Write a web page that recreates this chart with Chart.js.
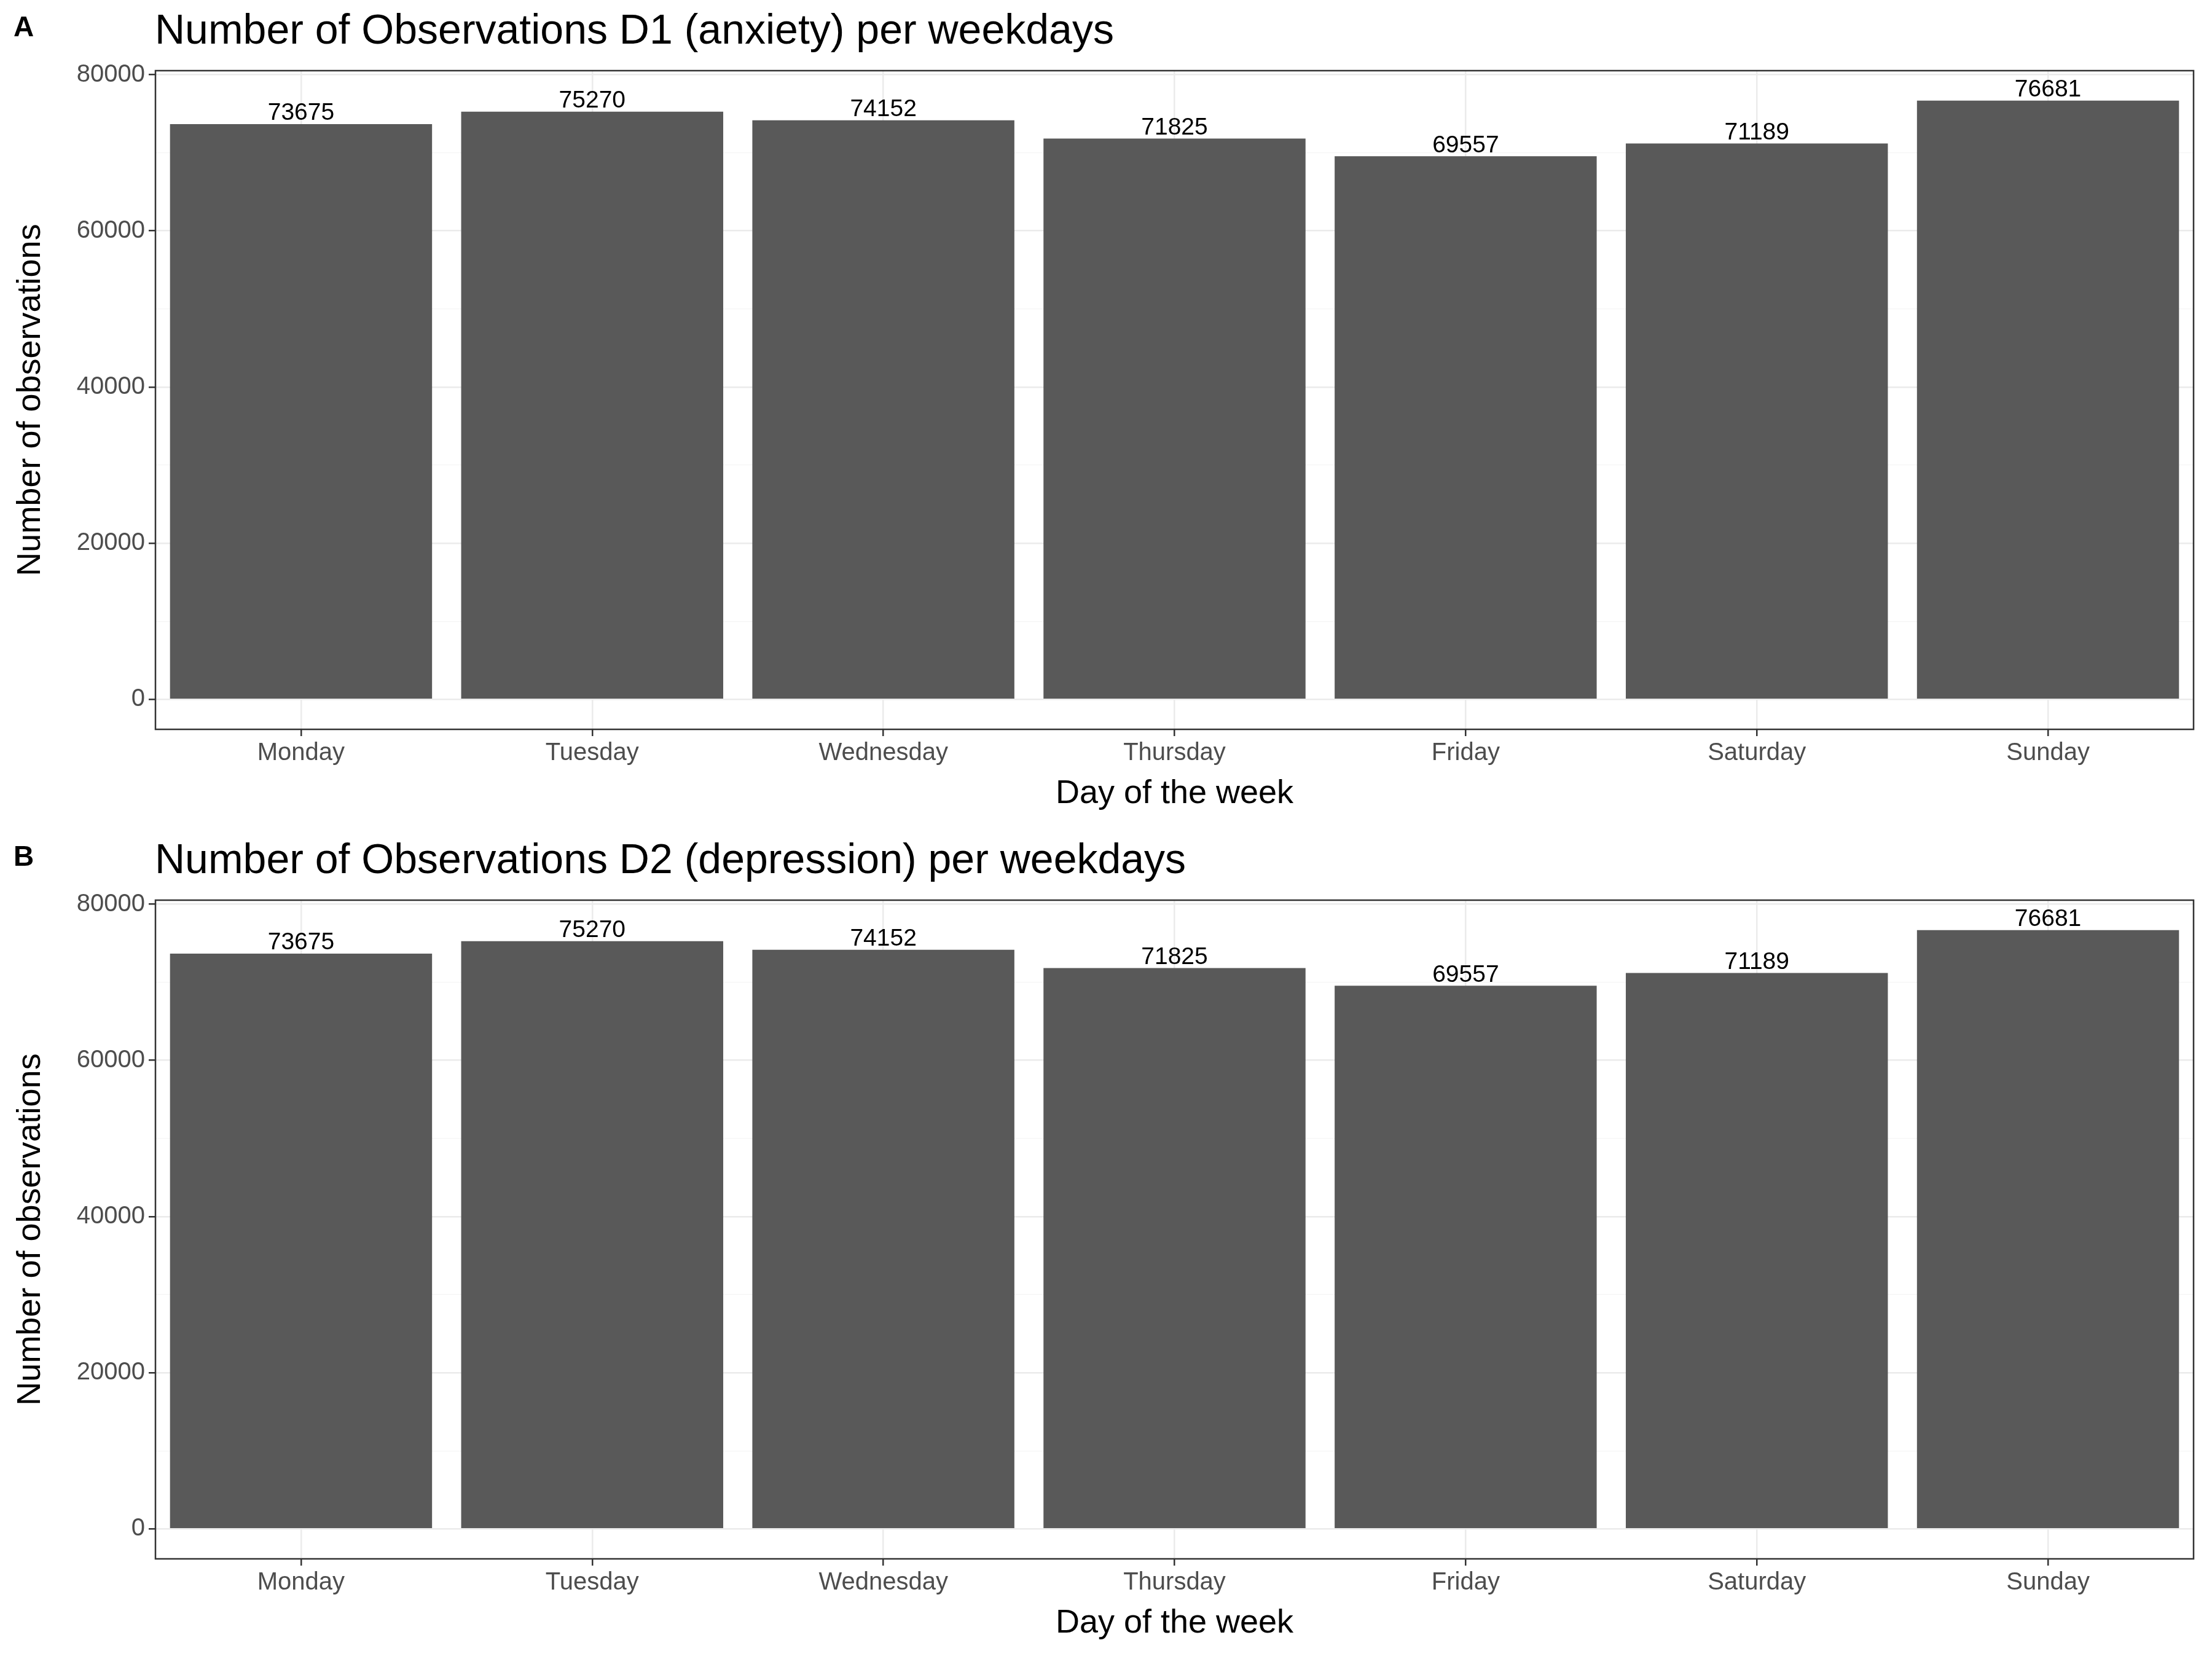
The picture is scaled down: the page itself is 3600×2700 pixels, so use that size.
<!DOCTYPE html>
<html><head><meta charset="utf-8">
<script src="https://cdn.jsdelivr.net/npm/chart.js@4/dist/chart.umd.min.js"></script>
<style>body{margin:0;background:#fff}canvas{display:block}</style>
</head><body>
<canvas id="a" width="3600" height="1350"></canvas>
<canvas id="b" width="3600" height="1350"></canvas>
<script>
const days = ["Monday","Tuesday","Wednesday","Thursday","Friday","Saturday","Sunday"];
const anxiety = [73675,75270,74152,71825,69557,71189,76681];
const depression = [73675,75270,74152,71825,69557,71189,76681];
const titles = ["Number of Observations D1 (anxiety) per weekdays","Number of Observations D2 (depression) per weekdays"];
const tags = ["A","B"];
const FONT = "Liberation Sans, Arial, sans-serif";

function make(id, data, title, tag){
  const deco = {
    id:'deco',
    afterDatasetsDraw(c){
      const ctx=c.ctx, ca=c.chartArea, meta=c.getDatasetMeta(0);
      ctx.save();
      ctx.fillStyle='#000';
      ctx.font='39px '+FONT; ctx.textAlign='center'; ctx.textBaseline='bottom';
      meta.data.forEach((el,i)=>ctx.fillText(String(data[i]), el.x, el.y+2));
      ctx.strokeStyle='#333'; ctx.lineWidth=2.5;
      ctx.strokeRect(ca.left,ca.top,ca.right-ca.left,ca.bottom-ca.top);
      ctx.font='68px '+FONT; ctx.textAlign='left'; ctx.textBaseline='middle';
      ctx.fillText(title, 252, 52);
      ctx.font='bold 46px '+FONT;
      ctx.fillText(tag, 22, 46);
      ctx.font='54px '+FONT; ctx.textAlign='center';
      ctx.fillText('Day of the week', (ca.left+ca.right)/2, 1292);
      ctx.translate(50,(ca.top+ca.bottom)/2); ctx.rotate(-Math.PI/2);
      ctx.fillText('Number of observations',0,0);
      ctx.restore();
    }
  };
  new Chart(document.getElementById(id),{
    type:'bar',
    data:{labels:days,datasets:[{data:data,backgroundColor:'#595959',barPercentage:0.9,categoryPercentage:1}]},
    options:{
      responsive:false,devicePixelRatio:1,animation:false,
      layout:{padding:{top:115,right:30,left:0,bottom:0}},
      plugins:{legend:{display:false},tooltip:{enabled:false}},
      scales:{
        x:{afterFit:s=>{s.height=163;},
           grid:{color:'#EBEBEB',lineWidth:2.5,offset:false,tickColor:'#333',tickLength:11,drawTicks:true},
           border:{display:false},
           ticks:{color:'#4D4D4D',font:{size:40,family:FONT},padding:4}},
        y:{min:-3834,max:80515,afterFit:s=>{s.width=253;},
           afterBuildTicks:s=>{const t=[];for(let v=0;v<=80000;v+=10000)t.push({value:v});s.ticks=t;},
           grid:{color:c=>c.tick&&c.tick.value%20000===0?'#EBEBEB':'#F5F5F5',
                 lineWidth:c=>c.tick&&c.tick.value%20000===0?2.5:1.3,
                 tickColor:c=>c.tick&&c.tick.value%20000===0?'#333':'rgba(0,0,0,0)',tickLength:11},
           border:{display:false},
           ticks:{color:'#4D4D4D',font:{size:40,family:FONT},padding:6,autoSkip:false,
                  callback:v=>v%20000===0?String(v):''}}
      }
    },
    plugins:[deco]
  });
}
make('a',anxiety,titles[0],tags[0]);
make('b',depression,titles[1],tags[1]);
</script>
</body></html>
